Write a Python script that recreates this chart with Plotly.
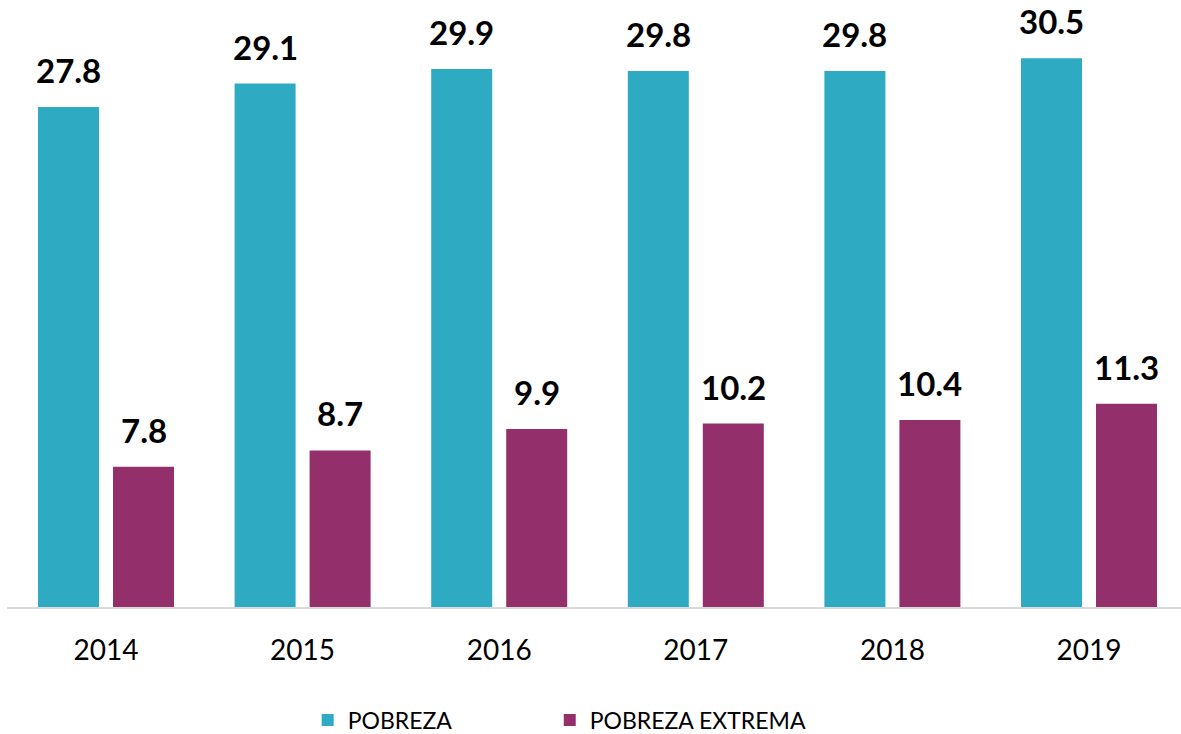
import plotly.graph_objects as go

years = ["2014", "2015", "2016", "2017", "2018", "2019"]
pobreza = [27.8, 29.1, 29.9, 29.8, 29.8, 30.5]
extrema = [7.8, 8.7, 9.9, 10.2, 10.4, 11.3]
series_names = ["POBREZA", "POBREZA EXTREMA"]
colors = ["#2EABC3", "#93306B"]

FONT = "Lato"
bargap = 0.237
bargroupgap = 0.1867
cat_px = 196.6

fig = go.Figure()
legends = ["legend", "legend2"]
for name, vals, col, lg in zip(series_names, [pobreza, extrema], colors, legends):
    fig.add_trace(go.Bar(name=name, x=years, y=vals, marker_color=col,
                         marker_line_width=0, legend=lg))

# value labels
slot = cat_px * (1 - bargap) / 2
annotations = []
for i, vals in enumerate([pobreza, extrema]):
    shift = (i - 0.5) * slot
    for j, v in enumerate(vals):
        annotations.append(dict(x=j, y=v, xref="x", yref="y", text=f"<b>{v}</b>",
                                showarrow=False, xshift=shift, yshift=15,
                                yanchor="bottom",
                                font=dict(family=FONT, size=33, color="#000000")))

legend_font = dict(family=FONT, size=23, color="#000000")
fig.update_layout(
    width=1181, height=734,
    margin=dict(l=7, r=0, t=20, b=127, autoexpand=False),
    barmode="group", bargap=bargap, bargroupgap=bargroupgap,
    plot_bgcolor="white", paper_bgcolor="white",
    font=dict(family=FONT, color="#000000"),
    annotations=annotations,
    showlegend=True,
    legend=dict(orientation="h", x=0.2561, xanchor="left", y=-0.1925, yanchor="middle",
                font=legend_font),
    legend2=dict(orientation="h", x=0.4623, xanchor="left", y=-0.1925, yanchor="middle",
                 font=legend_font),
    xaxis=dict(range=[-0.5036, 5.468], showline=True, linecolor="#D9D9D9", linewidth=2,
               showgrid=False, zeroline=False, ticks="",
               tickfont=dict(family=FONT, size=28, color="#000000"),
               ticklabelstandoff=17),
    yaxis=dict(range=[0, 32.63], visible=False, showgrid=False, zeroline=False),
)

fig.write_html("out.html", config={"displayModeBar": False},
               post_script="document.body.style.margin='0';")
